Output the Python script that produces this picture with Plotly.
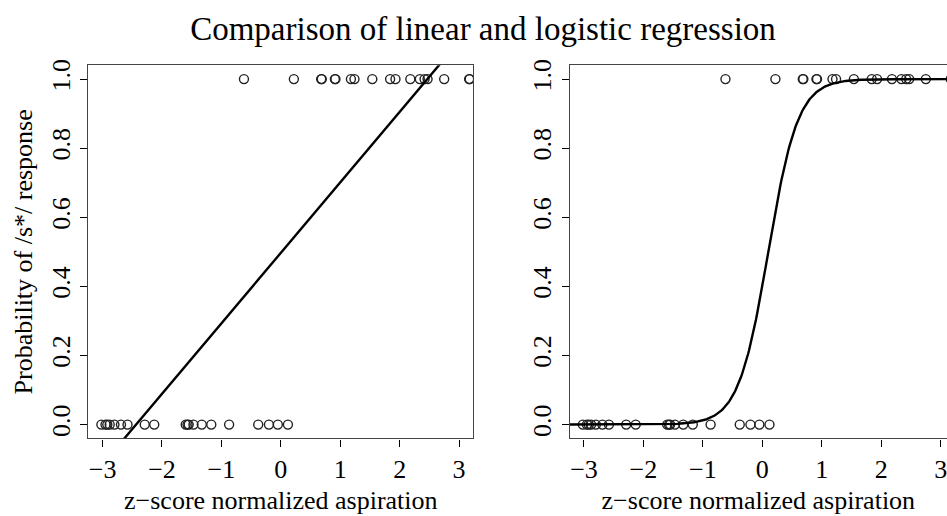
import numpy as np
import plotly.graph_objects as go

# ---- data ----
x_resp1 = [-0.62, 0.22, 0.68, 0.69, 0.91, 0.92, 1.18, 1.24, 1.54, 1.84, 1.93,
           2.18, 2.34, 2.42, 2.47, 2.75, 3.17, 3.18]
x_resp0 = [-3.02, -2.95, -2.92, -2.88, -2.80, -2.69, -2.58, -2.29, -2.13, -1.60,
           -1.57, -1.55, -1.47, -1.33, -1.17, -0.87, -0.38, -0.20, -0.05, 0.12]
x_ticks = [-3, -2, -1, 0, 1, 2, 3]
y_ticks = [0.0, 0.2, 0.4, 0.6, 0.8, 1.0]
y_tick_text = ["0.0", "0.2", "0.4", "0.6", "0.8", "1.0"]

# fitted model coefficients (estimated from the drawn lines)
lin_intercept, lin_slope = 0.497, 0.204
logit_intercept, logit_slope = -0.40, 4.0

W, H = 947, 516
FONT = "Liberation Serif, Times New Roman, serif"
FS = 26

xs = list(x_resp1) + list(x_resp0)
ys = [1.0] * len(x_resp1) + [0.0] * len(x_resp0)

grid = np.linspace(-3.3, 3.3, 400)
lin_y = lin_intercept + lin_slope * grid
log_y = 1.0 / (1.0 + np.exp(-(logit_intercept + logit_slope * grid)))

fig = go.Figure()
marker = dict(symbol="circle-open", size=9, color="#222222", line=dict(width=1.4))
fig.add_trace(go.Scatter(x=xs, y=ys, mode="markers", marker=marker,
                         xaxis="x", yaxis="y", showlegend=False))
fig.add_trace(go.Scatter(x=grid, y=lin_y, mode="lines",
                         line=dict(color="black", width=2.4),
                         xaxis="x", yaxis="y", showlegend=False))
fig.add_trace(go.Scatter(x=xs, y=ys, mode="markers", marker=marker,
                         xaxis="x2", yaxis="y2", showlegend=False))
fig.add_trace(go.Scatter(x=grid, y=log_y, mode="lines",
                         line=dict(color="black", width=2.4),
                         xaxis="x2", yaxis="y2", showlegend=False))

y_dom = [(H - 437.5) / H, (H - 60) / H]

common_x = dict(
    tickmode="array", tickvals=x_ticks, ticks="outside", ticklen=7,
    tickwidth=1, tickcolor="black", showline=True, linecolor="#444444",
    linewidth=1.2, showgrid=False, zeroline=False, ticklabeloverflow="allow",
    tickfont=dict(family=FONT, size=FS, color="black"),
    title=dict(text="z\u2212score normalized aspiration",
               font=dict(family=FONT, size=FS, color="black"), standoff=8),
)
common_y = dict(
    tickmode="array", tickvals=y_ticks, ticktext=y_tick_text, ticks="outside",
    ticklen=7, tickwidth=1, tickcolor="black", showline=True,
    linecolor="#444444", linewidth=1.2, showgrid=False, zeroline=False,
    tickangle=-90, range=[-0.04, 1.04], domain=y_dom,
    tickfont=dict(family=FONT, size=FS, color="black"),
)

fig.update_layout(
    width=W, height=H,
    margin=dict(l=0, r=0, t=0, b=0),
    paper_bgcolor="white", plot_bgcolor="white",
    title=dict(text="Comparison of linear and logistic regression",
               x=483 / W, xanchor="center", y=1 - 28 / H, yanchor="middle",
               font=dict(family=FONT, size=33, color="black")),
    xaxis=dict(common_x, domain=[88.3 / W, 473.3 / W], range=[-3.24, 3.24],
               mirror=True, anchor="y"),
    yaxis=dict(common_y, mirror=True, anchor="x",
               title=dict(text="Probability of /s*/ response",
                          font=dict(family=FONT, size=FS, color="black"),
                          standoff=6)),
    xaxis2=dict(common_x, domain=[569.7 / W, 1.0], range=[-3.24, 3.106],
                mirror=True, anchor="y2"),
    yaxis2=dict(common_y, mirror=False, anchor="x2"),
)

fig.write_html("out.html")
